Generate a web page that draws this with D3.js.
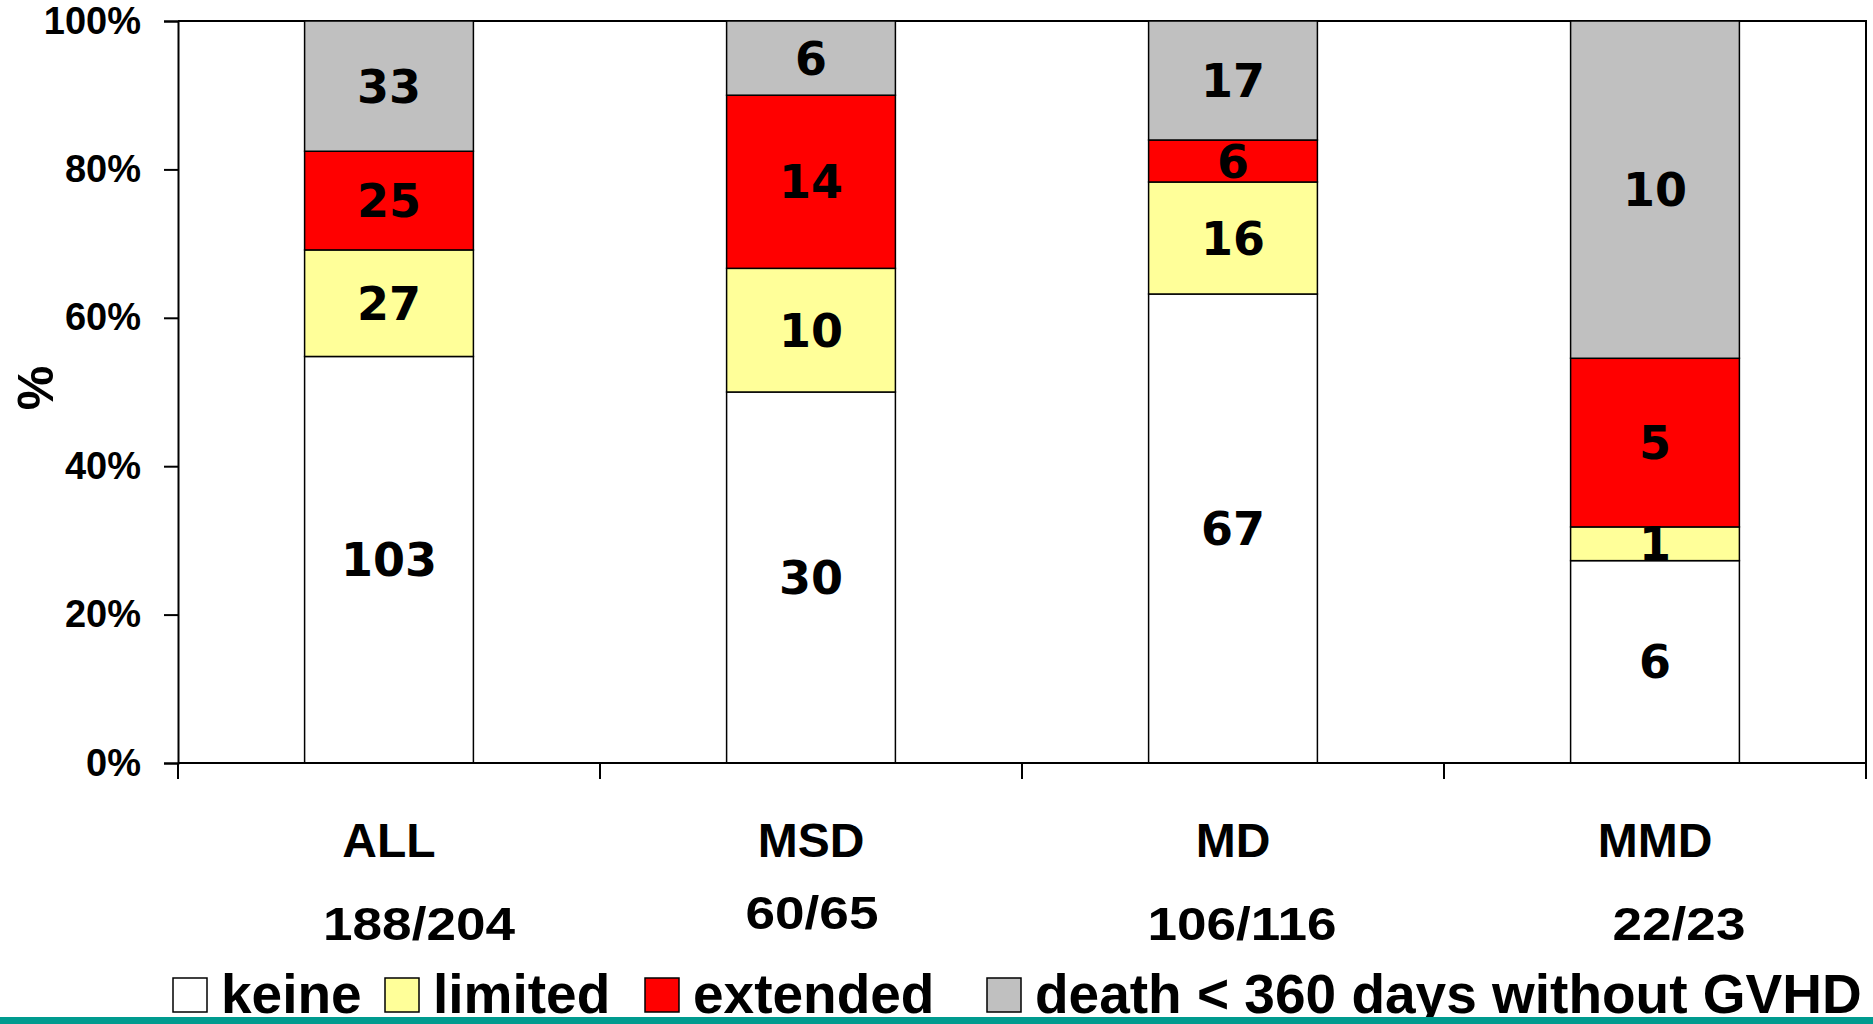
<!DOCTYPE html>
<html>
<head>
<meta charset="utf-8">
<script src="https://cdn.jsdelivr.net/npm/d3@7"></script>
<style>
  html, body { margin: 0; padding: 0; background: #fff; }
  svg { display: block; }
  .sans { font-family: "Liberation Sans", Arial, sans-serif; font-weight: bold; }
  .num  { font-family: "DejaVu Sans", Verdana, sans-serif; font-weight: bold; }
</style>
</head>
<body>
<svg id="chart" width="1873" height="1024"></svg>
<script>
// Groups and patient counts shown under each group
const categories = ["ALL", "MSD", "MD", "MMD"];
const groupCounts = ["188/204", "60/65", "106/116", "22/23"];

// GVHD outcome series (number of patients per group)
const seriesNames = ["keine", "limited", "extended", "death < 360 days without GVHD"];
const keine    = [103, 30, 67, 6];
const limited  = [27, 10, 16, 1];
const extended = [25, 14, 6, 5];
const death    = [33, 6, 17, 10];
const seriesColors = ["#FFFFFF", "#FFFF99", "#FF0000", "#C0C0C0"];

// Y axis tick labels
const yTicks = [0, 0.2, 0.4, 0.6, 0.8, 1.0];
const yTickLabels = ["0%", "20%", "40%", "60%", "80%", "100%"];

// layout
const W = 1873, H = 1024;
const plot = { left: 178, right: 1866, top: 21, bottom: 763 };
const subLabelDx = [30, 1, 9, 24];      // horizontal nudge of the count labels
const subLabelDy = [0, -11, 0, 0];      // vertical nudge of the count labels
const legendX = [173, 385, 645, 987];   // left edge of each legend swatch

const svg = d3.select("#chart");

const x = d3.scaleBand()
  .domain(categories)
  .range([plot.left, plot.right])
  .paddingInner(0.6)
  .paddingOuter(0.3);

const y = d3.scaleLinear().domain([0, 1]).range([plot.bottom, plot.top]);

// build rows, normalise each group to 100 %
const rows = categories.map((c, i) => {
  const vals = [keine[i], limited[i], extended[i], death[i]];
  const total = d3.sum(vals);
  const r = { cat: c, total };
  seriesNames.forEach((s, j) => { r[s] = vals[j] / total; r[s + "_n"] = vals[j]; });
  return r;
});

const stacked = d3.stack().keys(seriesNames)(rows);

// plot frame (top and right)
svg.append("path")
  .attr("d", `M${plot.left},${plot.top}H${plot.right}V${plot.bottom}`)
  .attr("fill", "none").attr("stroke", "#000").attr("stroke-width", 2);

// bars
const layers = svg.append("g").selectAll("g")
  .data(stacked).join("g")
  .attr("fill", (d, i) => seriesColors[i]);

layers.selectAll("rect")
  .data(d => d.map(p => ({ p, cat: p.data.cat })))
  .join("rect")
  .attr("x", d => x(d.cat))
  .attr("width", x.bandwidth())
  .attr("y", d => y(d.p[1]))
  .attr("height", d => y(d.p[0]) - y(d.p[1]))
  .attr("stroke", "#000")
  .attr("stroke-width", 1.5);

// value labels inside segments
stacked.forEach((layer, j) => {
  svg.append("g").selectAll("text")
    .data(layer).join("text")
    .attr("class", "num")
    .attr("font-size", 46)
    .attr("text-anchor", "middle")
    .attr("x", d => x(d.data.cat) + x.bandwidth() / 2)
    .attr("y", d => y((d[0] + d[1]) / 2))
    .attr("dy", "0.36em")
    .attr("fill", "#000")
    .text(d => d.data[seriesNames[j] + "_n"]);
});

// Y axis
const yAxis = d3.axisLeft(y)
  .tickValues(yTicks)
  .tickFormat((d, i) => yTickLabels[i])
  .tickSize(14)
  .tickPadding(23);
const gy = svg.append("g")
  .attr("transform", `translate(${plot.left},0)`)
  .call(yAxis);
gy.select(".domain").attr("stroke", "#000").attr("stroke-width", 2);
gy.selectAll(".tick line").attr("stroke", "#000").attr("stroke-width", 2);
gy.selectAll(".tick text")
  .attr("class", "sans")
  .attr("font-size", 38)
  .attr("fill", "#000");

// X axis: baseline with ticks between groups
const gx = svg.append("g");
gx.append("line")
  .attr("x1", plot.left).attr("x2", plot.right)
  .attr("y1", plot.bottom).attr("y2", plot.bottom)
  .attr("stroke", "#000").attr("stroke-width", 2);
gx.selectAll(".xt")
  .data(d3.range(categories.length + 1))
  .join("line")
  .attr("x1", i => plot.left + i * x.step())
  .attr("x2", i => plot.left + i * x.step())
  .attr("y1", plot.bottom).attr("y2", plot.bottom + 16)
  .attr("stroke", "#000").attr("stroke-width", 2);

// category names
svg.append("g").selectAll("text")
  .data(categories).join("text")
  .attr("class", "sans")
  .attr("font-size", 48)
  .attr("text-anchor", "middle")
  .attr("x", d => x(d) + x.bandwidth() / 2)
  .attr("y", 857)
  .text(d => d);

// patient counts
svg.append("g").selectAll("g")
  .data(groupCounts).join("g")
  .attr("transform", (d, i) =>
    `translate(${x(categories[i]) + x.bandwidth() / 2 + subLabelDx[i]},${940 + subLabelDy[i]}) scale(1.13,1)`)
  .append("text")
  .attr("class", "sans")
  .attr("font-size", 47)
  .attr("text-anchor", "middle")
  .text(d => d);

// y axis title
svg.append("text")
  .attr("class", "sans")
  .attr("font-size", 50)
  .attr("text-anchor", "middle")
  .attr("transform", "translate(53,388) rotate(-90)")
  .text("%");

// legend
const legend = svg.append("g").attr("transform", "translate(0,1013)");
seriesNames.forEach((name, i) => {
  legend.append("rect")
    .attr("x", legendX[i]).attr("y", -35)
    .attr("width", 34).attr("height", 34)
    .attr("fill", seriesColors[i])
    .attr("stroke", "#000").attr("stroke-width", 1.5);
  legend.append("text")
    .attr("class", "sans")
    .attr("font-size", 55)
    .attr("x", legendX[i] + 48)
    .attr("y", 0)
    .text(name);
});

// teal rule along the bottom edge
svg.append("rect")
  .attr("x", 0).attr("y", 1017)
  .attr("width", W).attr("height", 7)
  .attr("fill", "#009B8F");
</script>
</body>
</html>
